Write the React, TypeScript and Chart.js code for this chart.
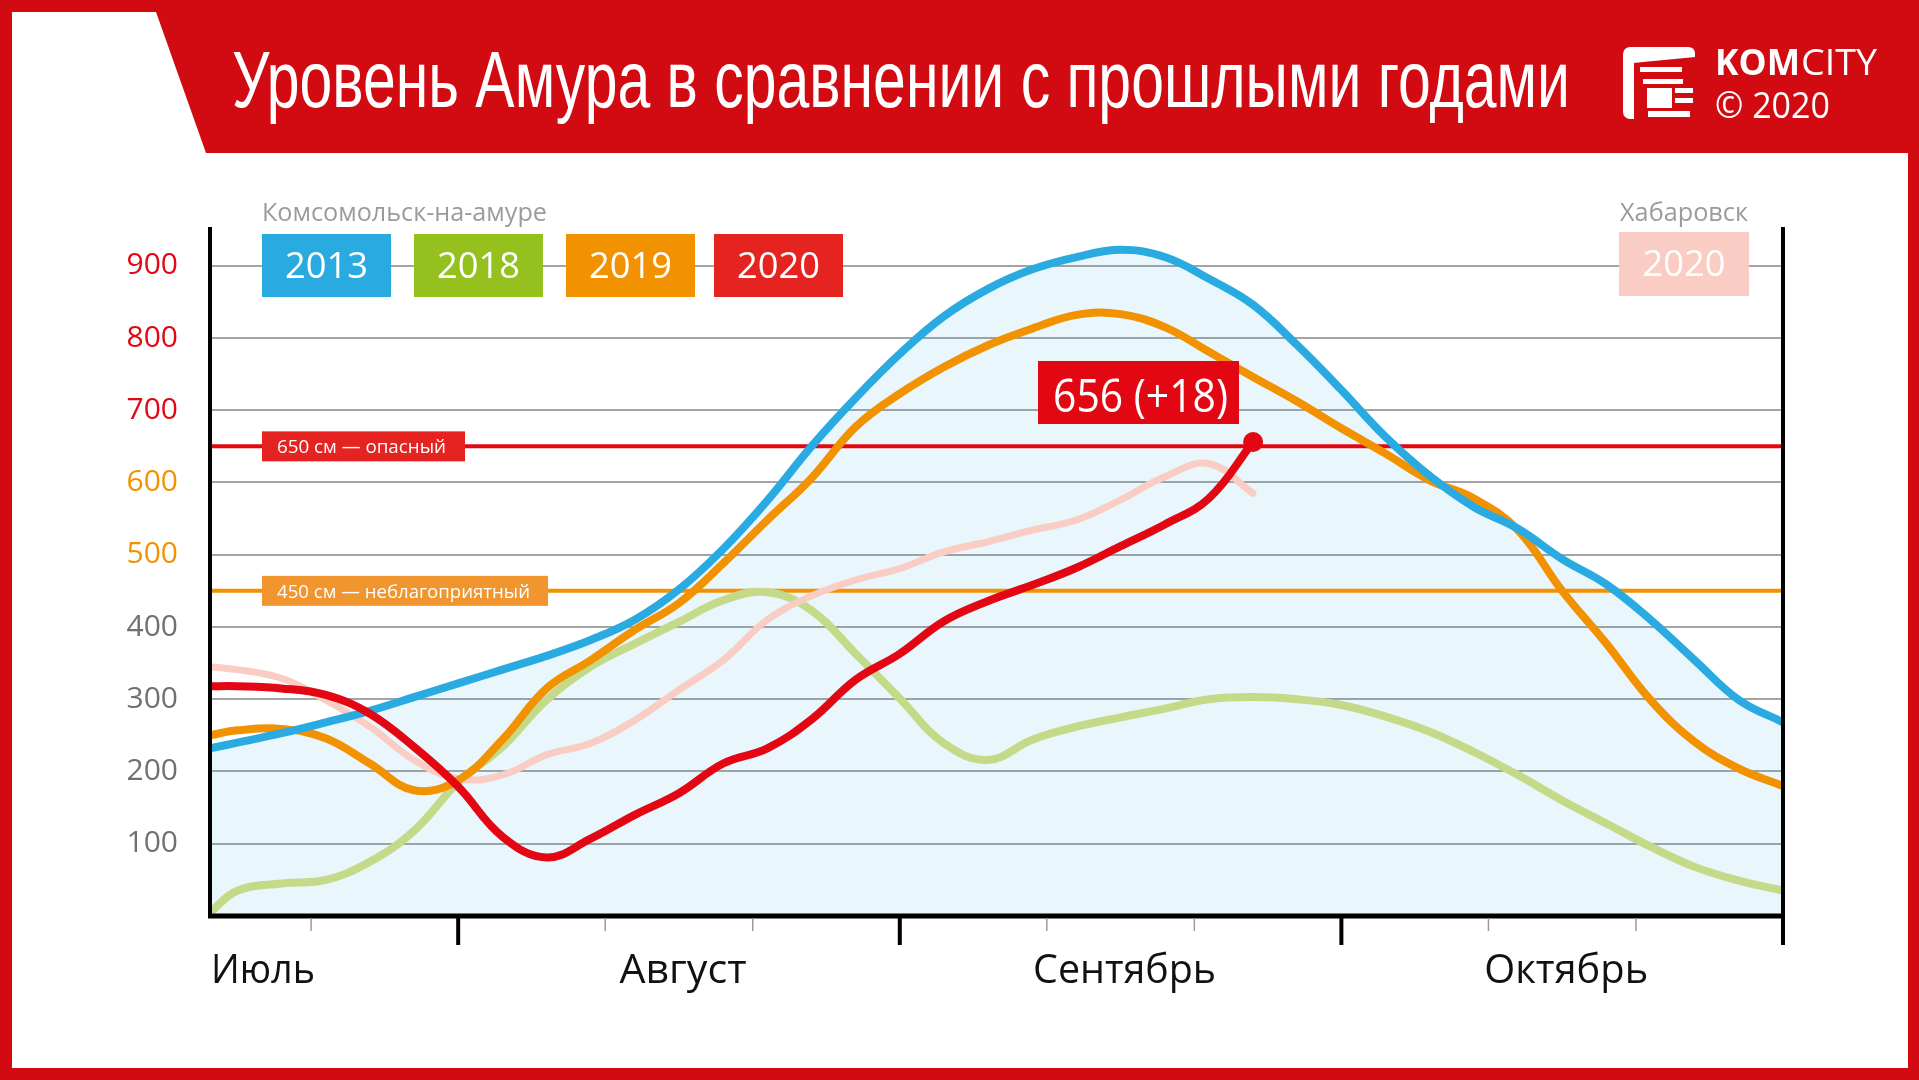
import React, { useEffect, useRef } from 'react';
import { Chart, registerables } from 'chart.js';

Chart.register(...registerables);

// x positions in month units: 0 = 1 July, 1 = 1 August, 2 = 1 September, 3 = 1 October, 4 = 1 November
const X_POS = [0.438, 0.5, 0.6, 0.7, 0.8, 0.9, 1.0, 1.1, 1.2, 1.3, 1.4, 1.5, 1.6, 1.7, 1.8, 1.9, 2.0, 2.1, 2.2, 2.3, 2.4, 2.5, 2.6, 2.7, 2.8, 2.9, 3.0, 3.1, 3.2, 3.3, 3.4, 3.5, 3.6, 3.7, 3.8, 3.9, 4.0];

// Комсомольск-на-Амуре, water level, cm
const KOMS_2013 = [232, 240, 253, 268, 284, 303, 322, 341, 360, 382, 410, 452, 508, 575, 650, 717, 778, 830, 868, 895, 912, 922, 912, 882, 846, 790, 728, 663, 609, 566, 536, 494, 459, 410, 354, 299, 268];
const KOMS_2018 = [5, 35, 45, 50, 75, 118, 185, 234, 299, 345, 377, 407, 437, 448, 423, 363, 301, 239, 216, 244, 262, 275, 287, 300, 303, 300, 292, 276, 255, 227, 195, 160, 128, 96, 68, 49, 35];
const KOMS_2019 = [250, 257, 259, 246, 211, 174, 188, 244, 315, 354, 396, 433, 488, 548, 606, 677, 723, 760, 790, 813, 832, 833, 815, 781, 746, 712, 675, 640, 603, 578, 534, 450, 377, 299, 241, 204, 180];
const KOMS_2020 = [318, 318, 315, 306, 280, 234, 179, 110, 81, 107, 140, 170, 211, 232, 272, 327, 363, 408, 436, 458, 482, 512, 542, 578, 656];
// Хабаровск 2020
const KHAB_2020 = [345, 341, 329, 299, 262, 216, 190, 195, 223, 239, 271, 313, 354, 410, 443, 465, 481, 504, 518, 534, 548, 576, 608, 626, 585];

const X_MIN = 0.438;
const X_MAX = 4.0;
const Y_MAX = 955;

const MONTHS = ['Июль', 'Август', 'Сентябрь', 'Октябрь'];
const MAJOR_TICKS = [1, 2, 3, 4];
const MINOR_TICKS = [0.667, 1.333, 1.667, 2.333, 2.667, 3.333, 3.667];

const THRESHOLD_VALUES = [650, 450];
const THRESHOLD_LABELS = ['650 см — опасный', '450 см — неблагоприятный'];

const LEGEND_YEARS = ['2013', '2018', '2019', '2020'];
const CITY_LEFT = 'Комсомольск-на-амуре';
const CITY_RIGHT = 'Хабаровск';
const CITY_RIGHT_YEAR = '2020';
const ANNOTATION = '656 (+18)';
const TITLE = 'Уровень Амура в сравнении с прошлыми годами';

const C_BLUE = '#29abe2';
const C_GREEN = '#c5da88';
const C_GREEN_BOX = '#95c11f';
const C_ORANGE = '#f39200';
const C_RED = '#e30613';
const C_RED_BOX = '#e52421';
const C_PINK = '#f9cdc3';
const C_HEADER = '#d20a11';

function pts(vals: number[]) {
  return vals.map((v, i) => ({ x: X_POS[i], y: v }));
}

function fitText(ctx: CanvasRenderingContext2D, text: string, x: number, y: number, width: number, align: 'left' | 'center' | 'right' = 'left') {
  const w = ctx.measureText(text).width;
  const s = w > 0 ? width / w : 1;
  const x0 = align === 'left' ? x : align === 'center' ? x - width / 2 : x - width;
  ctx.save();
  ctx.textAlign = 'left';
  ctx.translate(x0, y);
  ctx.scale(s, 1);
  ctx.fillText(text, 0, 0);
  ctx.restore();
}

const decorPlugin = {
  id: 'decor',
  beforeDraw(chart: any) {
    const ctx: CanvasRenderingContext2D = chart.ctx;
    const W = chart.width;
    const H = chart.height;
    ctx.save();
    ctx.fillStyle = '#ffffff';
    ctx.fillRect(0, 0, W, H);
    // red header band and frame
    ctx.fillStyle = C_HEADER;
    ctx.fillRect(0, 0, W, 153);
    ctx.fillRect(0, 0, 12, H);
    ctx.fillRect(1908, 0, W - 1908, H);
    ctx.fillRect(0, 1068, W, H - 1068);
    ctx.fillStyle = '#ffffff';
    ctx.beginPath();
    ctx.moveTo(12, 12);
    ctx.lineTo(156, 12);
    ctx.lineTo(206, 153);
    ctx.lineTo(12, 153);
    ctx.closePath();
    ctx.fill();
    // title
    ctx.fillStyle = '#ffffff';
    ctx.textBaseline = 'alphabetic';
    ctx.font = "80px 'Liberation Sans Narrow', 'Liberation Sans', sans-serif";
    fitText(ctx, TITLE, 232, 107, 1338);
    // logo icon
    ctx.fillStyle = '#ffffff';
    ctx.beginPath();
    (ctx as any).roundRect(1623, 47, 11, 72, [7, 0, 0, 7]);
    ctx.fill();
    ctx.beginPath();
    ctx.moveTo(1630, 47);
    ctx.lineTo(1688, 47);
    ctx.quadraticCurveTo(1695, 47, 1695, 54);
    ctx.lineTo(1695, 57);
    ctx.lineTo(1633, 63);
    ctx.lineTo(1630, 63);
    ctx.closePath();
    ctx.fill();
    ctx.fillRect(1640, 67, 42, 5);
    ctx.fillRect(1643, 79, 40, 5);
    ctx.fillRect(1647, 88, 25, 20);
    ctx.fillRect(1675, 88, 18, 5);
    ctx.fillRect(1675, 98, 18, 5);
    ctx.fillRect(1648, 111, 42, 6);
    // logo text
    ctx.font = "bold 36px 'Open Sans', sans-serif";
    fitText(ctx, 'KOM', 1715, 75, 85);
    ctx.font = "36px 'Open Sans', sans-serif";
    fitText(ctx, 'CITY', 1801, 75, 76);
    ctx.font = "36px 'Open Sans', sans-serif";
    fitText(ctx, '© 2020', 1715, 118, 115);
    ctx.restore();
  },
  beforeDatasetsDraw(chart: any) {
    const ctx: CanvasRenderingContext2D = chart.ctx;
    const { left, right } = chart.chartArea;
    const ys = chart.scales.y;
    ctx.save();
    THRESHOLD_VALUES.forEach((v, i) => {
      const y = ys.getPixelForValue(v);
      ctx.strokeStyle = i === 0 ? C_RED : C_ORANGE;
      ctx.lineWidth = 4;
      ctx.beginPath();
      ctx.moveTo(left, y);
      ctx.lineTo(right, y);
      ctx.stroke();
    });
    ctx.restore();
  },
  afterDatasetsDraw(chart: any) {
    const ctx: CanvasRenderingContext2D = chart.ctx;
    const { left, right, top, bottom } = chart.chartArea;
    const xs = chart.scales.x;
    const ys = chart.scales.y;
    ctx.save();
    // axes
    ctx.strokeStyle = '#000000';
    ctx.lineWidth = 4;
    ctx.beginPath();
    ctx.moveTo(left, top + 1);
    ctx.lineTo(left, bottom + 2);
    ctx.stroke();
    ctx.beginPath();
    ctx.moveTo(right, top + 1);
    ctx.lineTo(right, bottom + 29);
    ctx.stroke();
    ctx.lineWidth = 5;
    ctx.beginPath();
    ctx.moveTo(left - 2, bottom);
    ctx.lineTo(right + 2, bottom);
    ctx.stroke();
    // ticks
    ctx.lineWidth = 4;
    MAJOR_TICKS.forEach((m) => {
      const x = xs.getPixelForValue(m);
      ctx.beginPath();
      ctx.moveTo(x, bottom);
      ctx.lineTo(x, bottom + 29);
      ctx.stroke();
    });
    ctx.strokeStyle = '#9a9a9a';
    ctx.lineWidth = 1.5;
    MINOR_TICKS.forEach((m) => {
      const x = xs.getPixelForValue(m);
      ctx.beginPath();
      ctx.moveTo(x, bottom + 2);
      ctx.lineTo(x, bottom + 15);
      ctx.stroke();
    });
    // month labels
    ctx.fillStyle = '#111111';
    ctx.textBaseline = 'alphabetic';
    ctx.font = "40px 'Open Sans', sans-serif";
    const monthWidths = [104, 127, 183, 164];
    MONTHS.forEach((name, i) => {
      if (i === 0) {
        fitText(ctx, name, xs.getPixelForValue(X_MIN) + 1, 983, monthWidths[i], 'left');
      } else {
        fitText(ctx, name, xs.getPixelForValue(i + 0.5) + 4, 983, monthWidths[i], 'center');
      }
    });
    // threshold label boxes
    const boxColors = [C_RED_BOX, '#f1952f'];
    const boxWidths = [203, 286];
    const textWidths = [169, 253];
    THRESHOLD_VALUES.forEach((v, i) => {
      const y = ys.getPixelForValue(v);
      ctx.fillStyle = boxColors[i];
      ctx.fillRect(262, y - 15, boxWidths[i], 30);
      ctx.fillStyle = '#ffffff';
      ctx.font = "19px 'Open Sans', sans-serif";
      fitText(ctx, THRESHOLD_LABELS[i], 277, y + 7, textWidths[i]);
    });
    // legend (Комсомольск-на-Амуре)
    ctx.fillStyle = '#9b9b9b';
    ctx.font = "26px 'Open Sans', sans-serif";
    fitText(ctx, CITY_LEFT, 262, 221, 285);
    fitText(ctx, CITY_RIGHT, 1748, 221, 128, 'right');
    const legendX = [262, 414, 566, 714];
    const legendColors = [C_BLUE, C_GREEN_BOX, C_ORANGE, C_RED_BOX];
    LEGEND_YEARS.forEach((yr, i) => {
      ctx.fillStyle = legendColors[i];
      ctx.fillRect(legendX[i], 234, 129, 63);
      ctx.fillStyle = '#ffffff';
      ctx.font = "37px 'Open Sans', sans-serif";
      fitText(ctx, yr, legendX[i] + 64.5, 278, 83, 'center');
    });
    ctx.fillStyle = C_PINK;
    ctx.fillRect(1619, 232, 130, 64);
    ctx.fillStyle = '#ffffff';
    ctx.font = "37px 'Open Sans', sans-serif";
    fitText(ctx, CITY_RIGHT_YEAR, 1684, 276, 83, 'center');
    // annotation
    ctx.fillStyle = C_RED;
    ctx.fillRect(1038, 361, 201, 63);
    ctx.fillStyle = '#ffffff';
    ctx.font = "46px 'Open Sans', sans-serif";
    fitText(ctx, ANNOTATION, 1053, 412, 175);
    ctx.restore();
  },
};

export default function App() {
  const ref = useRef<HTMLCanvasElement>(null);
  useEffect(() => {
    if (!ref.current) return;
    const lastRed = KOMS_2020.length - 1;
    const line = (label: string, data: number[], color: string, order: number, width = 8) => ({
      label,
      data: pts(data),
      borderColor: color,
      backgroundColor: color,
      borderWidth: width,
      pointRadius: 0,
      fill: false,
      order,
      tension: 0.4,
      borderCapStyle: 'round' as const,
      borderJoinStyle: 'round' as const,
    });
    const chart = new Chart(ref.current, {
      type: 'line',
      data: {
        datasets: [
          {
            ...line('2020', KOMS_2020, C_RED, 0),
            pointRadius: (c: any) => (c.dataIndex === lastRed ? 10 : 0),
            pointBackgroundColor: C_RED,
            pointBorderWidth: 0,
          },
          {
            ...line('2013', KOMS_2013, C_BLUE, 1),
            fill: 'origin',
            backgroundColor: 'rgba(41,171,226,0.1)',
          },
          line('2019', KOMS_2019, C_ORANGE, 2),
          line('Хабаровск 2020', KHAB_2020, C_PINK, 3, 7),
          line('2018', KOMS_2018, C_GREEN, 4),
        ] as any,
      },
      options: {
        responsive: false,
        animation: false,
        devicePixelRatio: 1,
        layout: { padding: { left: 0, top: 226, right: 136, bottom: 164 } },
        scales: {
          x: { type: 'linear', min: X_MIN, max: X_MAX, display: false },
          y: {
            min: 0,
            max: Y_MAX,
            afterFit: (s: any) => {
              s.width = 210;
            },
            border: { display: false },
            grid: {
              drawTicks: false,
              lineWidth: 2,
              color: (c: any) => (c.tick && c.tick.value === 0 ? 'rgba(0,0,0,0)' : '#a4a4a4'),
            },
            ticks: {
              stepSize: 100,
              includeBounds: false,
              padding: 32,
              font: { family: "'Open Sans', sans-serif", size: 30 },
              color: (c: any) => {
                const v = c.tick ? c.tick.value : 0;
                if (v >= 700) return C_RED;
                if (v >= 500) return C_ORANGE;
                return '#707070';
              },
              callback: (v: any) => (v === 0 ? '' : String(v)),
            },
          },
        },
        plugins: {
          legend: { display: false },
          tooltip: { enabled: false },
          filler: { drawTime: 'beforeDatasetsDraw' },
        },
      } as any,
      plugins: [decorPlugin],
    });
    return () => chart.destroy();
  }, []);
  return (
    <div style={{ position: 'absolute', left: 0, top: 0, width: 1919, height: 1080 }}>
      <canvas ref={ref} width={1919} height={1080} style={{ width: 1919, height: 1080, display: 'block' }} />
    </div>
  );
}
